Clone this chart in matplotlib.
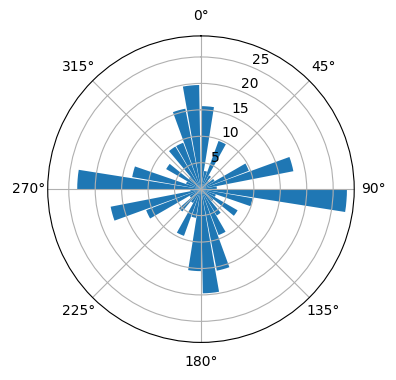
import matplotlib
matplotlib.use("Agg")
import matplotlib.pyplot as plt
import numpy as np

# bin start angles (degrees, clockwise from north) and bar lengths
bin_start = np.arange(0, 360, 10)
counts = [15.7, 3.5, 9.7, 3.0, 2.0, 3.0, 9.7, 17.8, 3.0,
          27.6, 9.9, 3.0, 8.0, 3.0, 5.8, 9.3, 15.7, 19.7,
          15.5, 5.5, 9.4, 3.0, 5.5, 2.5, 11.1, 17.4, 2.0,
          23.4, 13.2, 3.0, 7.6, 3.0, 9.4, 9.4, 15.5, 19.7]
bar_width = 9  # degrees

fig = plt.figure(figsize=(3.96, 3.8), dpi=100)
ax = fig.add_axes([0.1205, 0.0987, 0.774, 0.807], projection='polar')
ax.set_theta_zero_location('N')
ax.set_theta_direction(-1)

ax.bar(np.deg2rad(bin_start), counts, width=np.deg2rad(bar_width),
       align='edge', color='#1f77b4')
ax.set_rticks([5, 10, 15, 20, 25])

fig.savefig('out.png', dpi=100)
